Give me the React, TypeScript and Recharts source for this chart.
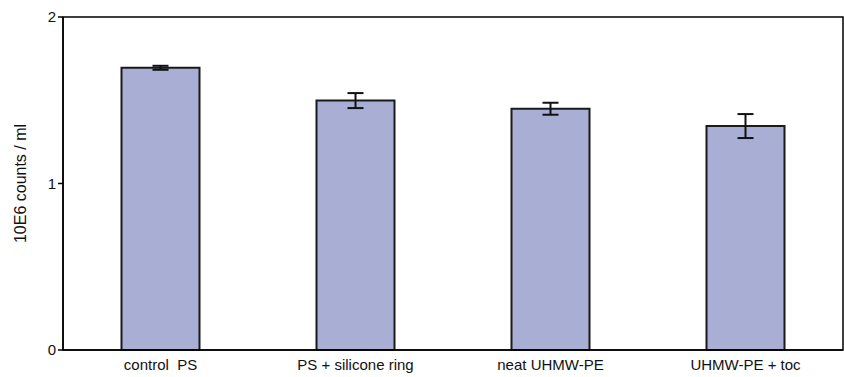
import React from 'react';
import { BarChart, Bar, XAxis, YAxis, ErrorBar, ReferenceArea } from 'recharts';

const categories = ['control  PS', 'PS + silicone ring', 'neat UHMW-PE', 'UHMW-PE + toc'];
const counts = [1.695, 1.498, 1.449, 1.345];
const errors = [0.012, 0.045, 0.036, 0.072];
const yTicks = [0, 1, 2];

const data = categories.map((name, i) => ({ name, value: counts[i], err: errors[i] }));

const FONT = '"Liberation Sans", Arial, sans-serif';

const XTick = (props: any) => {
  const { x, y, payload } = props;
  return (
    <text x={x} y={y + 12} textAnchor="middle" fontFamily={FONT} fontSize={15} fill="#111" style={{ whiteSpace: 'pre' }}>
      {payload.value}
    </text>
  );
};

const YLabel = (props: any) => {
  const cy = 17 + 333 / 2;
  return (
    <text
      x={20}
      y={cy}
      transform={`rotate(-90, 20, ${cy})`}
      textAnchor="middle"
      dominantBaseline="central"
      fontFamily={FONT}
      fontSize={16}
      fill="#111"
    >
      10E6 counts / ml
    </text>
  );
};

export default function App() {
  return (
    <div style={{ position: 'absolute', left: 0, top: 0, background: '#fff' }}>
      <BarChart
        width={844}
        height={377}
        data={data}
        margin={{ top: 17, right: 1, bottom: 0, left: 0 }}
        barCategoryGap="30%"
      >
        <XAxis
          dataKey="name"
          tick={<XTick />}
          tickLine={false}
          axisLine={{ stroke: '#000', strokeWidth: 1.5 }}
          height={27}
          interval={0}
        />
        <YAxis
          domain={[0, 2]}
          ticks={yTicks}
          width={63}
          tickLine={{ stroke: '#000', strokeWidth: 1.5 }}
          tickSize={5}
          axisLine={{ stroke: '#000', strokeWidth: 1.5 }}
          tick={{ fontFamily: FONT, fontSize: 15, fill: '#111' }}
          label={<YLabel />}
        />
        <ReferenceArea y1={0} y2={2} fill="none" stroke="#000" strokeWidth={1.5} ifOverflow="visible" />
        <Bar dataKey="value" fill="#A9AED4" stroke="#1a1a1a" strokeWidth={2} isAnimationActive={false}>
          <ErrorBar dataKey="err" width={8} stroke="#111" strokeWidth={2} />
        </Bar>
      </BarChart>
    </div>
  );
}
